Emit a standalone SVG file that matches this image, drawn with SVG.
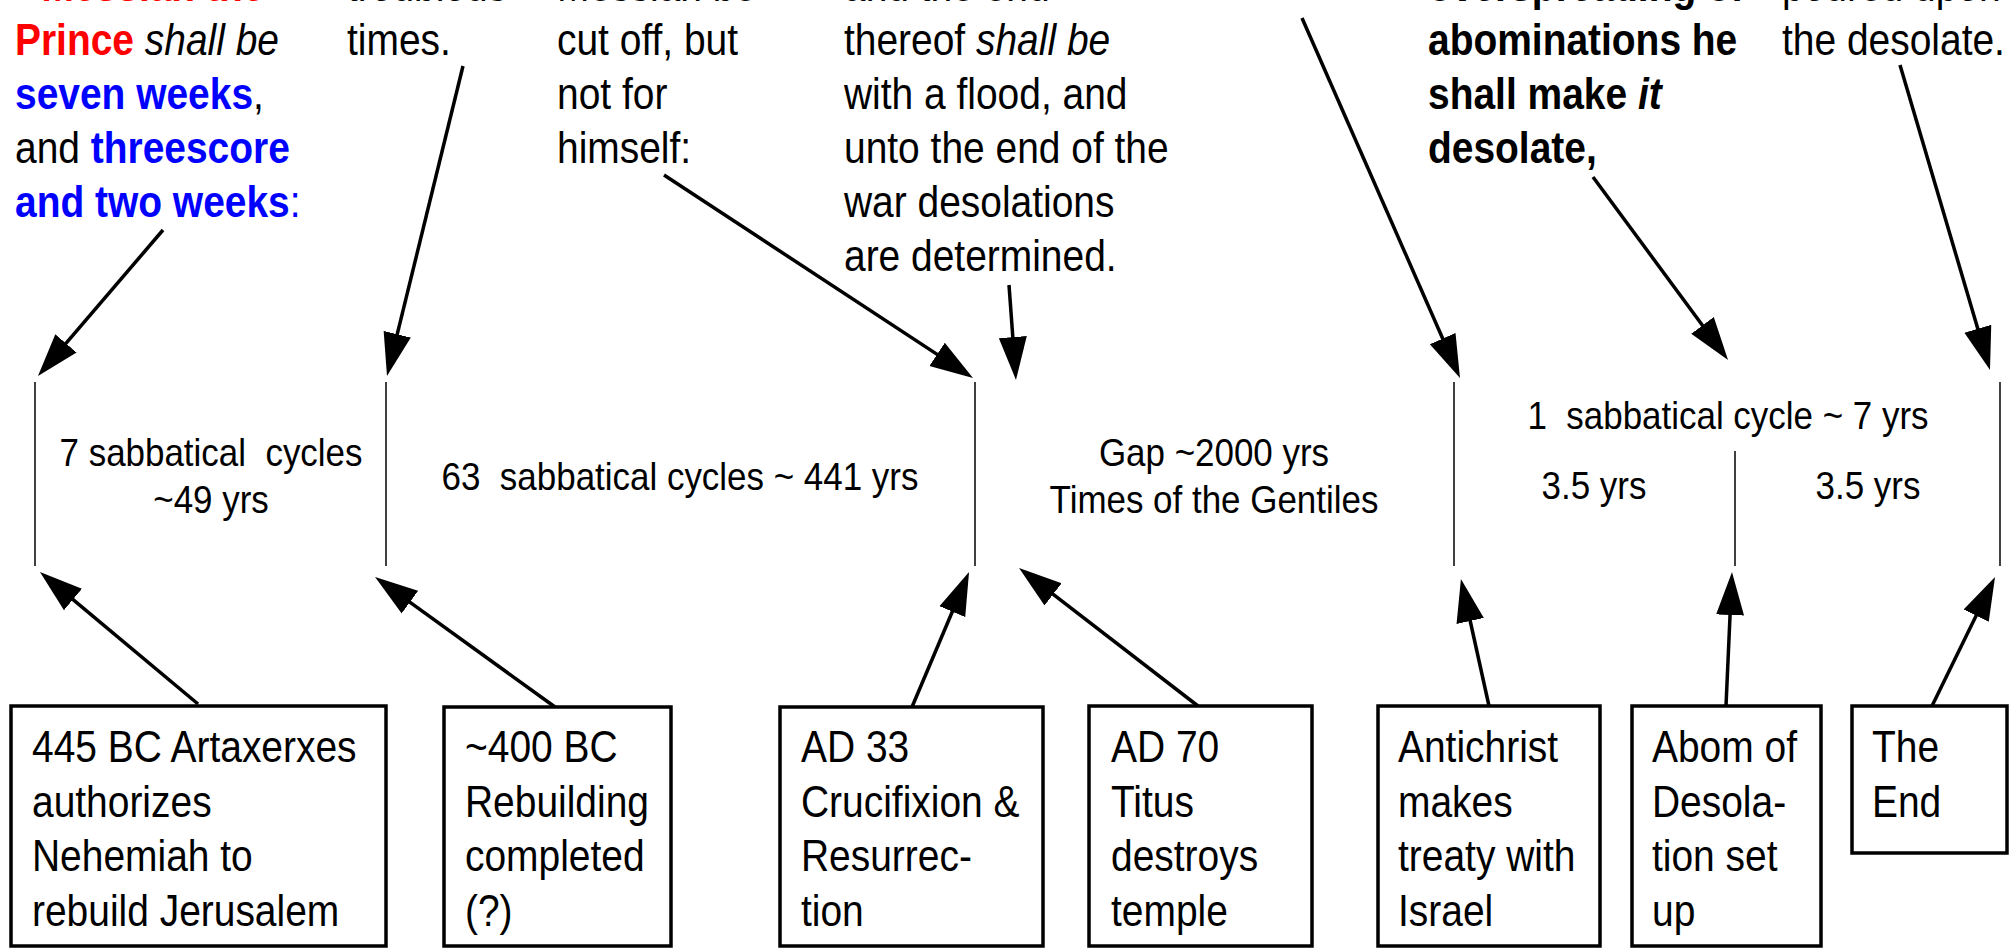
<svg xmlns="http://www.w3.org/2000/svg" width="2010" height="949" viewBox="0 0 2010 949">
<style>
text{font-family:"Liberation Sans",Arial,sans-serif;fill:#000}
.t{font-size:44px}
.m{font-size:39.5px}
.b{font-weight:bold}
.i{font-style:italic}
.red{fill:#ff0000;font-weight:bold}
.blue{fill:#0000ff;font-weight:bold}
.box{fill:#fff;stroke:#000;stroke-width:3.5}
.div{stroke:#000;stroke-width:1.5;fill:none}
.con{stroke:#000;stroke-width:3.5;fill:none;marker-end:url(#ah)}
</style>
<defs>
<marker id="ah" markerUnits="userSpaceOnUse" markerWidth="44" markerHeight="30" viewBox="0 0 44 30" refX="1" refY="15" orient="auto"><path d="M0,1 L43,15 L0,29 Z" fill="#000"/></marker>
</defs>

<g id="verse-texts">
<g id="v1" transform="translate(15,0) scale(0.885,1)">
<text class="t" x="30" y="1"><tspan class="red">Messiah the</tspan></text>
<text class="t" x="0" y="55"><tspan class="red">Prince</tspan> <tspan class="i">shall be</tspan></text>
<text class="t" x="0" y="109"><tspan class="blue">seven weeks</tspan>,</text>
<text class="t" x="0" y="163">and <tspan class="blue">threescore</tspan></text>
<text class="t" x="0" y="217"><tspan class="blue">and two weeks</tspan><tspan fill="#0000ff">:</tspan></text>
</g>
<g id="v2" transform="translate(347,0) scale(0.885,1)">
<text class="t" x="0" y="1">troublous</text>
<text class="t" x="0" y="55">times.</text>
</g>
<g id="v3" transform="translate(557,0) scale(0.885,1)">
<text class="t" x="0" y="1">Messiah be</text>
<text class="t" x="0" y="55">cut off, but</text>
<text class="t" x="0" y="109">not for</text>
<text class="t" x="0" y="163">himself:</text>
</g>
<g id="v4" transform="translate(844,0) scale(0.885,1)">
<text class="t" x="0" y="1">and the end</text>
<text class="t" x="0" y="55">thereof <tspan class="i">shall be</tspan></text>
<text class="t" x="0" y="109">with a flood, and</text>
<text class="t" x="0" y="163">unto the end of the</text>
<text class="t" x="0" y="217">war desolations</text>
<text class="t" x="0" y="271">are determined.</text>
</g>
<g id="v6" transform="translate(1428,0) scale(0.885,1)">
<text class="t b" x="0" y="1">overspreading of</text>
<text class="t b" x="0" y="55">abominations he</text>
<text class="t b" x="0" y="109">shall make <tspan class="i">it</tspan></text>
<text class="t b" x="0" y="163">desolate,</text>
</g>
<g id="v7" transform="translate(1782,0) scale(0.885,1)">
<text class="t" x="0" y="1">poured upon</text>
<text class="t" x="0" y="55">the desolate.</text>
</g>
</g>

<g id="timeline">
<line class="div" x1="35" y1="382" x2="35" y2="566"/>
<line class="div" x1="386" y1="382" x2="386" y2="566"/>
<line class="div" x1="975" y1="382" x2="975" y2="566"/>
<line class="div" x1="1454" y1="382" x2="1454" y2="566"/>
<line class="div" x1="1735" y1="451" x2="1735" y2="566"/>
<line class="div" x1="2000" y1="382" x2="2000" y2="566"/>
<g id="p1" transform="translate(211,0) scale(0.885,1)">
<text class="m" x="0" y="466" text-anchor="middle" xml:space="preserve">7 sabbatical  cycles</text>
<text class="m" x="0" y="513" text-anchor="middle">~49 yrs</text>
</g>
<g id="p2" transform="translate(680,0) scale(0.885,1)">
<text class="m" x="0" y="490" text-anchor="middle" xml:space="preserve">63  sabbatical cycles ~ 441 yrs</text>
</g>
<g id="p3" transform="translate(1214,0) scale(0.885,1)">
<text class="m" x="0" y="466" text-anchor="middle">Gap ~2000 yrs</text>
<text class="m" x="0" y="513" text-anchor="middle">Times of the Gentiles</text>
</g>
<g id="p4" transform="translate(1728,0) scale(0.885,1)">
<text class="m" x="0" y="429" text-anchor="middle" xml:space="preserve">1  sabbatical cycle ~ 7 yrs</text>
</g>
<g id="p5" transform="translate(1594,0) scale(0.885,1)">
<text class="m" x="0" y="499" text-anchor="middle">3.5 yrs</text>
</g>
<g id="p6" transform="translate(1868,0) scale(0.885,1)">
<text class="m" x="0" y="499" text-anchor="middle">3.5 yrs</text>
</g>
</g>

<g id="connectors">
<path class="con" d="M163,230 L65.3,344.1"/>
<path class="con" d="M463,66 L397,335.2"/>
<path class="con" d="M664,175 L937.9,354.9"/>
<path class="con" d="M1009,285 L1012.9,338.1"/>
<path class="con" d="M1302,18 L1443.1,339.5"/>
<path class="con" d="M1593,177 L1703.1,326.2"/>
<path class="con" d="M1900,65 L1978.1,329.7"/>
<path class="con" d="M198,704 L72.2,598.9"/>
<path class="con" d="M555,707 L409.1,601.6"/>
<path class="con" d="M912,707 L952.7,610.7"/>
<path class="con" d="M1198,706 L1052.3,593.7"/>
<path class="con" d="M1489,706 L1470,620"/>
<path class="con" d="M1726,706 L1730.1,614"/>
<path class="con" d="M1932,706 L1976.6,614.7"/>
</g>

<g id="n1">
<rect class="box" x="11" y="706" width="375" height="240"/>
<g transform="translate(32,0) scale(0.885,1)">
<text class="t" x="0" y="762">445 BC Artaxerxes</text>
<text class="t" x="0" y="817">authorizes</text>
<text class="t" x="0" y="871">Nehemiah to</text>
<text class="t" x="0" y="926">rebuild Jerusalem</text>
</g>
</g>
<g id="n2">
<rect class="box" x="444" y="707" width="227" height="239"/>
<g transform="translate(465,0) scale(0.885,1)">
<text class="t" x="0" y="762">~400 BC</text>
<text class="t" x="0" y="817">Rebuilding</text>
<text class="t" x="0" y="871">completed</text>
<text class="t" x="0" y="926">(?)</text>
</g>
</g>
<g id="n3">
<rect class="box" x="780" y="707" width="263" height="239"/>
<g transform="translate(801,0) scale(0.885,1)">
<text class="t" x="0" y="762">AD 33</text>
<text class="t" x="0" y="817">Crucifixion &amp;</text>
<text class="t" x="0" y="871">Resurrec-</text>
<text class="t" x="0" y="926">tion</text>
</g>
</g>
<g id="n4">
<rect class="box" x="1089" y="706" width="223" height="240"/>
<g transform="translate(1111,0) scale(0.885,1)">
<text class="t" x="0" y="762">AD 70</text>
<text class="t" x="0" y="817">Titus</text>
<text class="t" x="0" y="871">destroys</text>
<text class="t" x="0" y="926">temple</text>
</g>
</g>
<g id="n5">
<rect class="box" x="1378" y="706" width="222" height="240"/>
<g transform="translate(1398,0) scale(0.885,1)">
<text class="t" x="0" y="762">Antichrist</text>
<text class="t" x="0" y="817">makes</text>
<text class="t" x="0" y="871">treaty with</text>
<text class="t" x="0" y="926">Israel</text>
</g>
</g>
<g id="n6">
<rect class="box" x="1632" y="706" width="189" height="240"/>
<g transform="translate(1652,0) scale(0.885,1)">
<text class="t" x="0" y="762">Abom of</text>
<text class="t" x="0" y="817">Desola-</text>
<text class="t" x="0" y="871">tion set</text>
<text class="t" x="0" y="926">up</text>
</g>
</g>
<g id="n7">
<rect class="box" x="1852" y="706" width="155" height="147"/>
<g transform="translate(1872,0) scale(0.885,1)">
<text class="t" x="0" y="762">The</text>
<text class="t" x="0" y="817">End</text>
</g>
</g>
</svg>
